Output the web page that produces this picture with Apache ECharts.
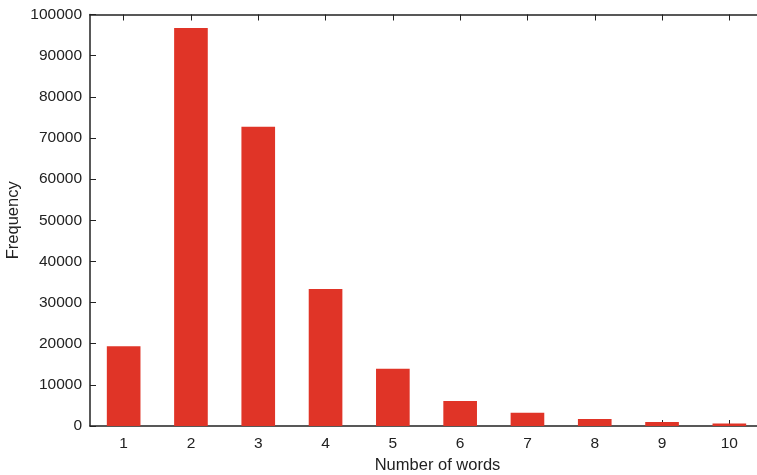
<!DOCTYPE html>
<html>
<head>
<meta charset="utf-8">
<script src="https://cdn.jsdelivr.net/npm/echarts@6/dist/echarts.min.js"></script>
<style>html,body{margin:0;padding:0;background:#fff}#c{width:757px;height:475px}</style>
</head>
<body>
<div id="c"></div>
<script>
const categories = ['1','2','3','4','5','6','7','8','9','10'];
const frequency = [19400, 96700, 72700, 33300, 13900, 6100, 3200, 1700, 1000, 600];
const yTicks = {min: 0, max: 100000, interval: 10000};

const chart = echarts.init(document.getElementById('c'), null, {renderer: 'canvas'});
const font = 'Liberation Sans, Arial, Helvetica, sans-serif';
const axisCol = '#222';
chart.setOption({
  animation: false,
  backgroundColor: '#fff',
  grid: {left: 90, top: 14.5, width: 673, bottom: 49, containLabel: false, outerBoundsMode: 'none'},
  xAxis: [{
    type: 'category',
    data: categories,
    position: 'bottom',
    boundaryGap: true,
    axisLine: {show: true, lineStyle: {color: axisCol, width: 1.5}},
    axisTick: {show: true, inside: true, alignWithLabel: true, length: 6, lineStyle: {color: axisCol, width: 1}},
    axisLabel: {show: true, color: '#222', fontFamily: font, fontSize: 15.5, margin: 10},
    name: 'Number of words',
    nameLocation: 'middle',
    nameGap: 31,
    nameTextStyle: {color: '#222', fontFamily: font, fontSize: 16.5, padding: [0, 0, 0, 22]},
    splitLine: {show: false}
  }, {
    type: 'category',
    data: categories,
    position: 'top',
    boundaryGap: true,
    axisLine: {show: true, lineStyle: {color: axisCol, width: 1.5}},
    axisTick: {show: true, inside: true, alignWithLabel: true, length: 6, lineStyle: {color: axisCol, width: 1}},
    axisLabel: {show: false},
    splitLine: {show: false}
  }],
  yAxis: {
    type: 'value',
    min: yTicks.min, max: yTicks.max, interval: yTicks.interval,
    axisLine: {show: true, lineStyle: {color: axisCol, width: 1.5}},
    axisTick: {show: true, inside: true, length: 6, lineStyle: {color: axisCol, width: 1}},
    axisLabel: {color: '#222', fontFamily: font, fontSize: 15.5, margin: 8, formatter: v => String(v)},
    splitLine: {show: false},
    name: 'Frequency',
    nameLocation: 'middle',
    nameGap: 68,
    nameMoveOverlap: false,
    nameRotate: 90,
    nameTextStyle: {color: '#222', fontFamily: font, fontSize: 16.5}
  },
  series: [{
    type: 'bar',
    data: frequency,
    xAxisIndex: 0,
    barWidth: '50%',
    itemStyle: {color: '#E03427'},
    z: 2
  }]
});
</script>
</body>
</html>
